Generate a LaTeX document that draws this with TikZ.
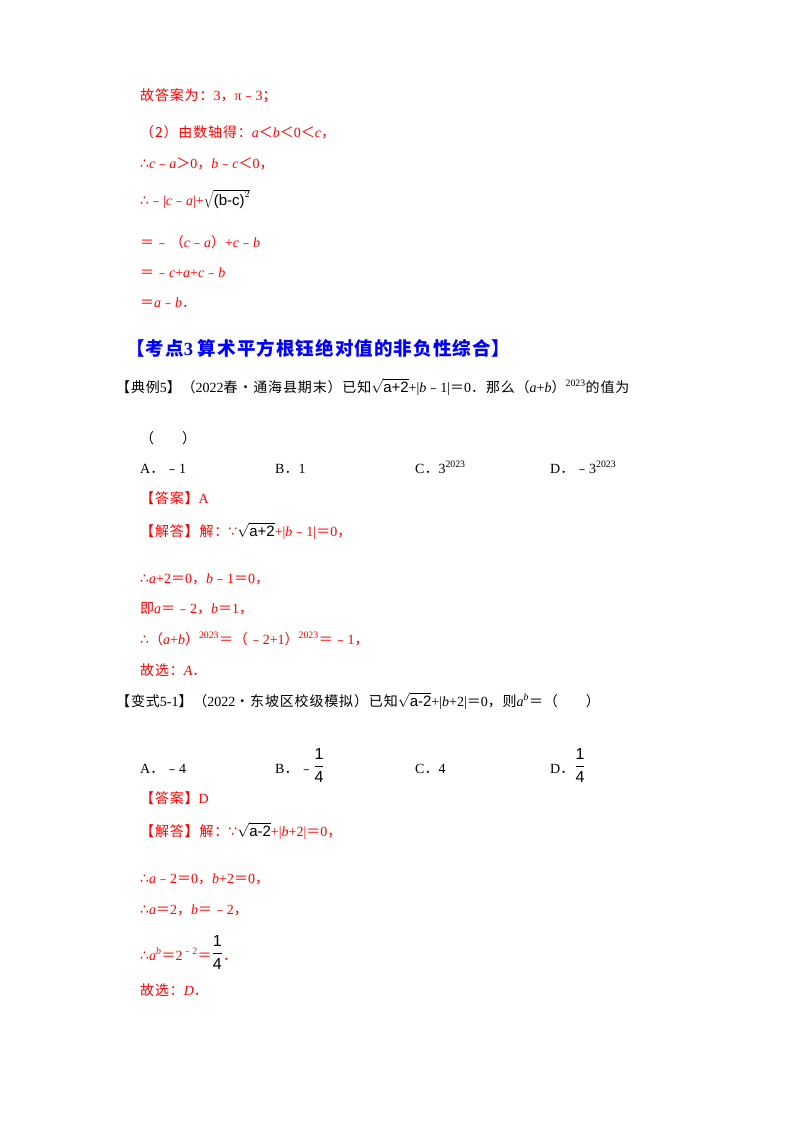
\documentclass[tikz,border=0pt]{standalone}
\usepackage{fontspec}
\setmainfont{Liberation Serif}
\setsansfont{Liberation Sans}
\newfontfamily\cjk[LetterSpace=6]{Noto Sans CJK SC}
\newfontfamily\dejavu{DejaVu Sans}
\newcommand{\C}[1]{{\cjk #1}}
\newcommand{\CB}[1]{{\cjk\bfseries #1}}
\newcommand{\mi}[1]{\textit{#1}}
\newcommand{\thus}{{\dejavu ∴}}
\newcommand{\since}{{\dejavu ∵}}
\newcommand{\sq}[1]{$\sqrt{\mbox{\sffamily\fontsize{15}{15}\selectfont #1}}$}
\newcommand{\qfrac}{\raisebox{2pt}{\fontsize{16}{16}\selectfont$\displaystyle\frac{\mbox{\sffamily 1}}{\mbox{\sffamily 4}}$}}
\definecolor{ansred}{RGB}{255,0,0}
\definecolor{headblue}{RGB}{0,0,255}
\begin{document}
\begin{tikzpicture}[x=1pt,y=-1pt,
  every node/.style={anchor=base west,inner sep=0pt,font=\fontsize{14}{16}\selectfont},
  red/.style={text=ansred},
  blk/.style={text=black}]
\useasboundingbox (0,0) rectangle (800,1132);
\node[red] (l1) at (140,100) {\C{故答案为：}3\C{，}π\C{﹣}3\C{；}};
\node[red] (l2) at (140,137) {\C{（2）由数轴得：}\mi{a}\C{＜}\mi{b}\C{＜}0\C{＜}\mi{c}\C{，}};
\node[red] (l3) at (140,168) {\thus\mi{c}\C{﹣}\mi{a}\C{＞}0\C{，}\mi{b}\C{﹣}\mi{c}\C{＜}0\C{，}};
\node[red] (l4) at (140,205) {\thus\C{﹣}|\mi{c}\C{﹣}\mi{a}|+\textcolor{black}{$\sqrt{\mbox{\sffamily\fontsize{15}{15}\selectfont (b-c)}^{2}}$}};
\node[red] (l5) at (140,247) {\C{＝﹣（}\mi{c}\C{﹣}\mi{a}\C{）}+\mi{c}\C{﹣}\mi{b}};
\node[red] (l6) at (140,277) {\C{＝﹣}\mi{c}+\mi{a}+\mi{c}\C{﹣}\mi{b}};
\node[red] (l7) at (140,307) {\C{＝}\mi{a}\C{﹣}\mi{b}\C{．}};
\node[text=headblue,font=\fontsize{18.5}{20}\selectfont\bfseries] (h) at (126,355) {\CB{【考点}3 \CB{算术平方根钰绝对值的非负性综合】}};
\node[blk] (q1) at (116,392) {\C{【典例}5\C{】（}2022\C{春•通海县期末）已知}\sq{a+2}+|\mi{b}\C{﹣}1|\C{＝}0\C{．那么（}\mi{a}+\mi{b}\C{）}\textsuperscript{2023}\C{的值为}};
\node[blk] (q1p) at (140,443) {\C{（\qquad）}};
\node[blk] (oA) at (140,473) {A\C{．﹣}1};
\node[blk] (oB) at (275,473) {B\C{．}1};
\node[blk] (oC) at (415,473) {C\C{．}3\textsuperscript{2023}};
\node[blk] (oD) at (550,473) {D\C{．﹣}3\textsuperscript{2023}};
\node[red] (a1) at (140,503) {\C{【答案】}A};
\node[red] (s1) at (140,536) {\C{【解答】解：}\since\textcolor{black}{\sq{a+2}}+|\mi{b}\C{﹣}1|\C{＝}0\C{，}};
\node[red] (s2) at (140,583) {\thus\mi{a}+2\C{＝}0\C{，}\mi{b}\C{﹣}1\C{＝}0\C{，}};
\node[red] (s3) at (140,613) {\C{即}\mi{a}\C{＝﹣}2\C{，}\mi{b}\C{＝}1\C{，}};
\node[red] (s4) at (140,644) {\thus\C{（}\mi{a}+\mi{b}\C{）}\textsuperscript{2023}\C{＝（﹣}2+1\C{）}\textsuperscript{2023}\C{＝﹣}1\C{，}};
\node[red] (s5) at (140,675) {\C{故选：}\mi{A}\C{．}};
\node[blk] (q2) at (116,706) {\C{【变式}5-1\C{】（}2022\C{•东坡区校级模拟）已知}\sq{a-2}+|\mi{b}+2|\C{＝}0\C{，则}\mi{a}\textsuperscript{\mi{b}}\C{＝（\qquad）}};
\node[blk] (pA) at (140,773) {A\C{．﹣}4};
\node[blk] (pB) at (275,773) {B\C{．﹣}\qfrac};
\node[blk] (pC) at (415,773) {C\C{．}4};
\node[blk] (pD) at (550,773) {D\C{．}\qfrac};
\node[red] (a2) at (140,803) {\C{【答案】}D};
\node[red] (t1) at (140,836) {\C{【解答】解：}\since\textcolor{black}{\sq{a-2}}+|\mi{b}+2|\C{＝}0\C{，}};
\node[red] (t2) at (140,883) {\thus\mi{a}\C{﹣}2\C{＝}0\C{，}\mi{b}+2\C{＝}0\C{，}};
\node[red] (t3) at (140,914) {\thus\mi{a}\C{＝}2\C{，}\mi{b}\C{＝﹣}2\C{，}};
\node[red] (t4) at (140,960) {\thus\mi{a}\textsuperscript{\mi{b}}\C{＝}2\textsuperscript{\C{﹣}2}\C{＝}\textcolor{black}{\qfrac}\C{．}};
\node[red] (t5) at (140,995) {\C{故选：}\mi{D}\C{．}};
\end{tikzpicture}
\end{document}
